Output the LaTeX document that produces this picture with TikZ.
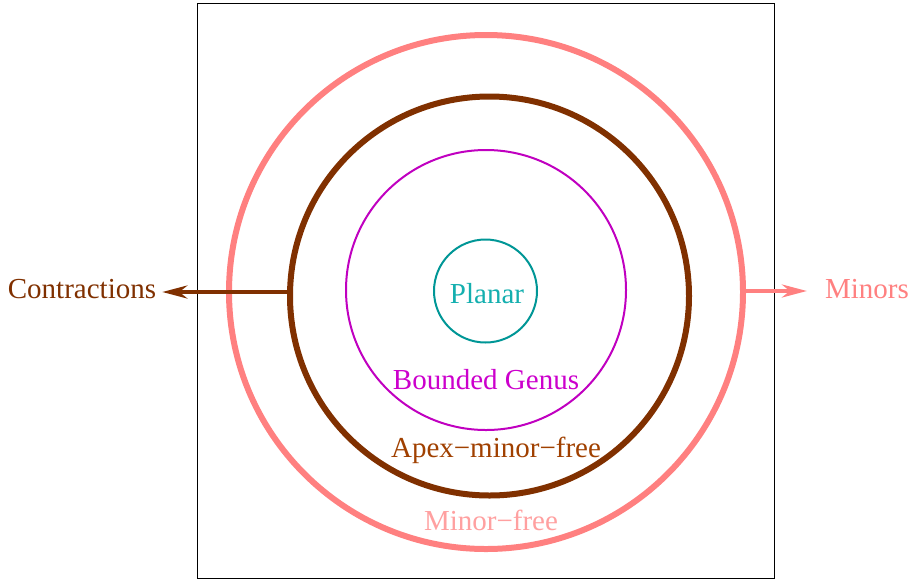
\documentclass[tikz,border=0pt]{standalone}
\usepackage{fontspec}
\setmainfont{Liberation Serif}
\usetikzlibrary{arrows.meta}
\definecolor{pinkc}{RGB}{255,128,128}
\definecolor{brownc}{RGB}{128,48,0}
\definecolor{purplec}{RGB}{192,0,192}
\definecolor{tealc}{RGB}{0,150,150}
\definecolor{tealt}{RGB}{20,175,175}
\definecolor{purplet}{RGB}{204,0,204}
\definecolor{apext}{RGB}{160,64,0}
\definecolor{minort}{RGB}{255,160,160}
\tikzset{
  ring/.style={circle, draw, inner sep=0pt, outer sep=0pt, minimum size=#1},
  lbl/.style={font=\fontsize{29}{34}\selectfont, inner sep=3pt},
  arr/.style={line width=3.8pt, -{Stealth[length=25pt,width=13pt,inset=8pt]}}
}
\begin{document}
\begin{tikzpicture}[x=1pt,y=-1pt]
\useasboundingbox (0,0) rectangle (915,582);
\node[draw=black, line width=0.8pt, minimum width=577pt, minimum height=575pt, inner sep=0pt] (box) at (485.5,290.5) {};
\node[ring=514pt, draw=pinkc, line width=6pt] (outer) at (486,292) {};
\node[ring=399pt, draw=brownc, line width=6pt] (apex) at (489.5,296) {};
\node[ring=280pt, draw=purplec, line width=2pt] (genus) at (486,290) {};
\node[ring=103pt, draw=tealc, line width=2pt] (planar) at (485.5,291) {};
\node[lbl, text=tealt] (tplanar) at (487,294) {Planar};
\node[lbl, text=purplet] (tgenus) at (486,380) {Bounded Genus};
\node[lbl, text=apext] (tapex) at (496,450) {Apex−minor−free};
\node[lbl, text=minort] (tminor) at (491,520) {Minor−free};
\node[lbl, text=brownc] (contr) at (82,289) {Contractions};
\node[lbl, text=pinkc] (minors) at (867,289) {Minors};
\coordinate (cstart) at ([yshift=4pt]apex.west);
\coordinate (mstart) at ([yshift=1pt]outer.east);
\draw[arr, draw=brownc] ([xshift=-1pt]cstart) -- ([xshift=3pt]contr.east |- cstart);
\draw[arr, draw=pinkc] ([xshift=-3pt]mstart) -- ([xshift=-15pt]minors.west |- mstart);
\end{tikzpicture}
\end{document}
